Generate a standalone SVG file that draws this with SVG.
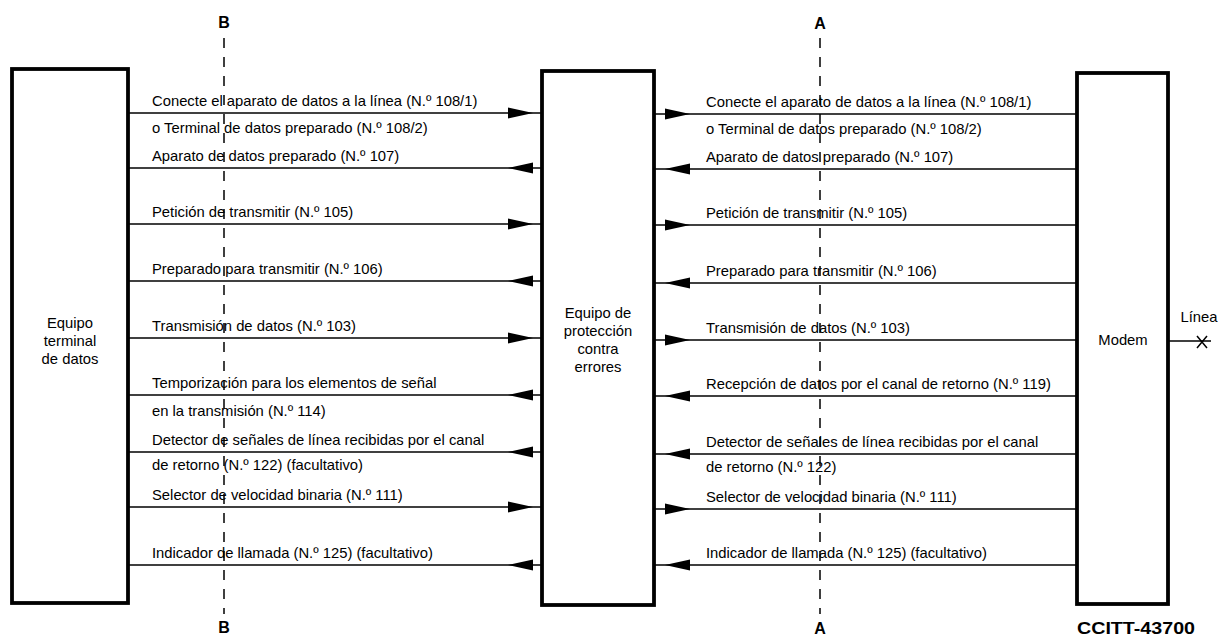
<svg xmlns="http://www.w3.org/2000/svg" xmlns:xlink="http://www.w3.org/1999/xlink" width="1218" height="639" viewBox="0 0 1218 639">
<style>
.box{fill:#fff;stroke:#000;stroke-width:3.8}
.sig{stroke:#000;stroke-width:1.5;fill:none}
.dash{stroke:#000;stroke-width:1.5;stroke-dasharray:10 9;fill:none}
.t{font-family:"Liberation Sans",Arial,sans-serif;font-size:14.8px;fill:#000}
.c{text-anchor:middle}
.b{font-family:"Liberation Sans",Arial,sans-serif;font-size:16px;font-weight:bold;fill:#000;text-anchor:middle}
</style>
<defs>
<path id="aR" d="M0,0 L-25,-5.5 L-25,5.5 Z" fill="#000"/>
<path id="aL" d="M0,0 L25,-5.5 L25,5.5 Z" fill="#000"/>
</defs>
<g id="interface-B">
<line class="dash" x1="224" y1="38" x2="224" y2="614"/>
<text class="b" x="224" y="28">B</text>
<text class="b" x="224" y="633">B</text>
</g>
<g id="interface-A">
<line class="dash" x1="820" y1="38" x2="820" y2="614"/>
<text class="b" x="820" y="29">A</text>
<text class="b" x="820" y="634">A</text>
</g>
<g id="dte">
<rect class="box" x="12" y="69" width="116" height="534"/>
<text class="t c" x="70" y="328">Equipo</text>
<text class="t c" x="70" y="346">terminal</text>
<text class="t c" x="70" y="364">de datos</text>
</g>
<g id="epe">
<rect class="box" x="542" y="71" width="112" height="534"/>
<text class="t c" x="598" y="318">Equipo de</text>
<text class="t c" x="598" y="336">protección</text>
<text class="t c" x="598" y="354">contra</text>
<text class="t c" x="598" y="372">errores</text>
</g>
<g id="modem">
<rect class="box" x="1077" y="73" width="91" height="531"/>
<text class="t c" x="1123" y="345">Modem</text>
</g>
<g id="line">
<line class="sig" x1="1168" y1="341" x2="1211" y2="341"/>
<path class="sig" d="M1197,336 L1207,348 M1207,336 L1197,348"/>
<text class="t c" x="1199" y="322">Línea</text>
</g>
<g id="connectors">
<g id="left-side">
<line class="sig" x1="128" y1="113" x2="542" y2="113"/><use xlink:href="#aR" x="533" y="113"/>
<line class="sig" x1="128" y1="168" x2="542" y2="168"/><use xlink:href="#aL" x="508" y="168"/>
<line class="sig" x1="128" y1="224" x2="542" y2="224"/><use xlink:href="#aR" x="533" y="224"/>
<line class="sig" x1="128" y1="281" x2="542" y2="281"/><use xlink:href="#aL" x="508" y="281"/>
<line class="sig" x1="128" y1="338" x2="542" y2="338"/><use xlink:href="#aR" x="533" y="338"/>
<line class="sig" x1="128" y1="395" x2="542" y2="395"/><use xlink:href="#aL" x="508" y="395"/>
<line class="sig" x1="128" y1="452" x2="542" y2="452"/><use xlink:href="#aL" x="508" y="452"/>
<line class="sig" x1="128" y1="507" x2="542" y2="507"/><use xlink:href="#aR" x="533" y="507"/>
<line class="sig" x1="128" y1="565" x2="542" y2="565"/><use xlink:href="#aL" x="508" y="565"/>
</g>
<g id="right-side">
<line class="sig" x1="654" y1="114" x2="1077" y2="114"/><use xlink:href="#aR" x="690" y="114"/>
<line class="sig" x1="654" y1="169" x2="1077" y2="169"/><use xlink:href="#aL" x="665" y="169"/>
<line class="sig" x1="654" y1="225" x2="1077" y2="225"/><use xlink:href="#aR" x="690" y="225"/>
<line class="sig" x1="654" y1="283" x2="1077" y2="283"/><use xlink:href="#aL" x="665" y="283"/>
<line class="sig" x1="654" y1="340" x2="1077" y2="340"/><use xlink:href="#aR" x="690" y="340"/>
<line class="sig" x1="654" y1="396" x2="1077" y2="396"/><use xlink:href="#aL" x="665" y="396"/>
<line class="sig" x1="654" y1="454" x2="1077" y2="454"/><use xlink:href="#aL" x="665" y="454"/>
<line class="sig" x1="654" y1="509" x2="1077" y2="509"/><use xlink:href="#aR" x="690" y="509"/>
<line class="sig" x1="654" y1="565" x2="1077" y2="565"/><use xlink:href="#aL" x="665" y="565"/>
</g>
</g>
<g id="labels-left">
<text class="t" x="152" y="106">Conecte el aparato de datos a la línea (N.º 108/1)</text>
<text class="t" x="152" y="133">o Terminal de datos preparado (N.º 108/2)</text>
<text class="t" x="152" y="161">Aparato de datos preparado (N.º 107)</text>
<text class="t" x="152" y="217">Petición de transmitir (N.º 105)</text>
<text class="t" x="152" y="274">Preparado para transmitir (N.º 106)</text>
<text class="t" x="152" y="331">Transmisión de datos (N.º 103)</text>
<text class="t" x="152" y="388">Temporización para los elementos de señal</text>
<text class="t" x="152" y="416">en la transmisión (N.º 114)</text>
<text class="t" x="152" y="445">Detector de señales de línea recibidas por el canal</text>
<text class="t" x="152" y="470">de retorno (N.º 122) (facultativo)</text>
<text class="t" x="152" y="500">Selector de velocidad binaria (N.º 111)</text>
<text class="t" x="152" y="558">Indicador de llamada (N.º 125) (facultativo)</text>
</g>
<g id="labels-right">
<text class="t" x="706" y="107">Conecte el aparato de datos a la línea (N.º 108/1)</text>
<text class="t" x="706" y="134">o Terminal de datos preparado (N.º 108/2)</text>
<text class="t" x="706" y="162">Aparato de datos preparado (N.º 107)</text>
<text class="t" x="706" y="218">Petición de transmitir (N.º 105)</text>
<text class="t" x="706" y="276">Preparado para transmitir (N.º 106)</text>
<text class="t" x="706" y="333">Transmisión de datos (N.º 103)</text>
<text class="t" x="706" y="389">Recepción de datos por el canal de retorno (N.º 119)</text>
<text class="t" x="706" y="447">Detector de señales de línea recibidas por el canal</text>
<text class="t" x="706" y="472">de retorno (N.º 122)</text>
<text class="t" x="706" y="502">Selector de velocidad binaria (N.º 111)</text>
<text class="t" x="706" y="558">Indicador de llamada (N.º 125) (facultativo)</text>
</g>
<g id="figure-ref">
<text class="b" x="1136" y="634" style="font-size:17px" textLength="118" lengthAdjust="spacingAndGlyphs">CCITT-43700</text>
</g>
</svg>
